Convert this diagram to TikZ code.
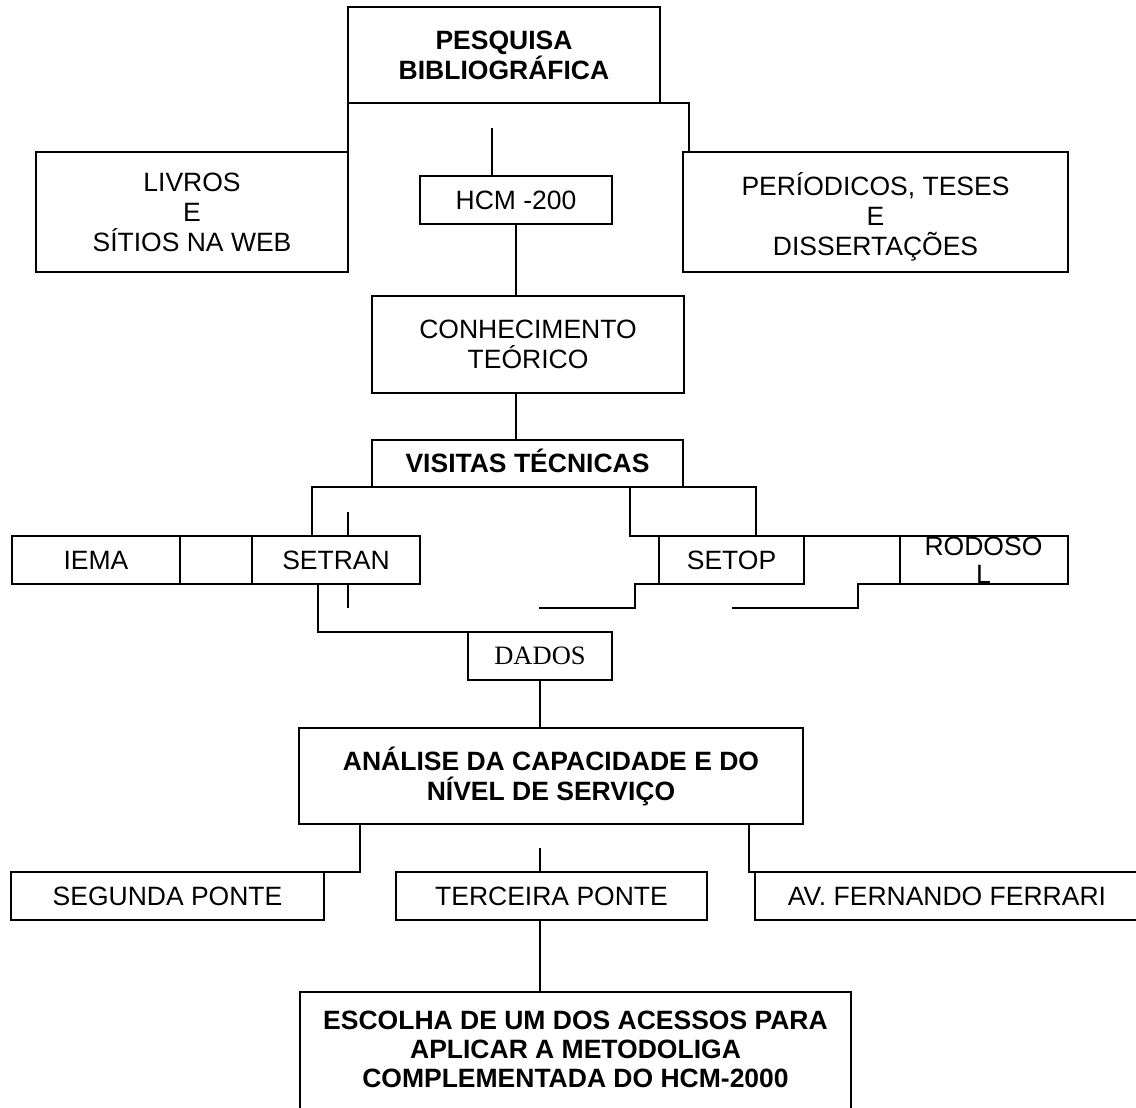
\documentclass[tikz,border=0pt]{standalone}
\usepackage{fontspec}
\setmainfont{Liberation Sans}
\newfontfamily\dadosfont{Liberation Serif}
\begin{document}
\begin{tikzpicture}[x=1pt, y=-1pt, line width=2pt,
  txt/.style={inner sep=0pt, outer sep=0pt, align=center,
              font=\fontsize{26.5}{30}\selectfont},
  box/.style={txt, draw, rectangle},
  bold/.style={font=\fontsize{26.5}{30}\selectfont\bfseries}]
\useasboundingbox (0,0) rectangle (1136,1108);
\fill[white] (0,0) rectangle (1136,1108);
\clip (0,0) rectangle (1136,1108);

% research sources
\node[box, bold, minimum width=312, minimum height=96] (pesq) at (504,55) {PESQUISA\\BIBLIOGRÁFICA};
\node[box, minimum width=312, minimum height=120] (livros) at (192,212) {LIVROS\\E\\SÍTIOS NA WEB};
\node[box, minimum width=192, minimum height=48] (hcm) at (516,200) {HCM -200};
\node[box, minimum width=385, minimum height=120] (period) at (875.5,212) {\rule{0pt}{27pt}PER\smash{Í}ODICOS, TESES\\E\\DISSERTA\smash{ÇÕ}ES};
\node[box, minimum width=312, minimum height=97] (conhec) at (528,344.5) {CONHECIMENTO\\TEÓRICO};

% technical visits
\node[box, bold, minimum width=311, minimum height=47.3] (visitas) at (527.5,463.7) {VISITAS T\smash{É}CNICAS};
\node[box, minimum width=168, minimum height=48] (iema) at (96,560) {IEMA};
\node[box, minimum width=72, minimum height=48] (blank) at (216,560) {};
\node[box, minimum width=168, minimum height=48] (setran) at (336,560) {SETRAN};
\node[box, minimum width=145, minimum height=48] (setop) at (731.5,560) {SETOP};
\node[box, minimum width=168, minimum height=48, font=\fontsize{26.5}{28}\selectfont] (rodoso) at (983.5,560) {RODOSO\\L};
\node[box, minimum width=144, minimum height=48, font=\dadosfont\fontsize{26.5}{30}\selectfont] (dados) at (540,656) {DADOS};

% analysis
\node[box, bold, minimum width=504, minimum height=96] (analise) at (551,776) {AN\smash{Á}LISE DA CAPACIDADE E DO\\NÍVEL DE SERVI\smash{Ç}O};
\node[box, minimum width=313, minimum height=48] (segunda) at (167.5,896) {SEGUNDA PONTE};
\node[box, minimum width=311, minimum height=48] (terceira) at (551.5,896) {TERCEIRA PONTE};
\node[box, minimum width=384, minimum height=48] (av) at (947,896) {AV. FERNANDO FERRARI};
\node[box, minimum width=551, minimum height=140, anchor=north] (escolha) at (575.5,992) {};
\node[txt, font=\fontsize{26.5}{29}\selectfont\bfseries] (escolhatxt) at (575.5,1049.3)
  {ESCOLHA DE UM DOS ACESSOS PARA\\APLICAR A METODOLIGA\\COMPLEMENTADA DO HCM-2000};

% free line ends
\coordinate (hcmstub) at (492,128);
\coordinate (vsplit) at (630,487.3);
\coordinate (crossA) at (348,512);
\coordinate (crossB) at (348,608);
\coordinate (endsetop) at (539,608);
\coordinate (endrodoso) at (732,608);
\coordinate (pontestub) at (540,848);

% connectors
\draw (pesq.south west) -- (pesq.south west |- livros.north);
\draw (pesq.south east) -| ([xshift=6pt]period.north west);
\draw (hcmstub) -- (hcmstub |- hcm.north);
\draw (hcm.south) -- (hcm.south |- conhec.north);
\draw (hcm.south |- conhec.south) -- (hcm.south |- visitas.north);
\draw (visitas.south west) -| ([xshift=60pt]setran.north west);
\draw (visitas.south east) -| ([xshift=24pt]setop.north);
\draw (vsplit) |- (rodoso.north west);
\draw (crossA) -- (crossA |- setran.north);
\draw (crossB) -- (crossB |- setran.south);
\draw ([xshift=66pt]setran.south west) |- (dados.north west);
\draw (setop.south west) -- ++(-24,0) |- (endsetop);
\draw (rodoso.south west) -- ++(-42,0) |- (endrodoso);
\draw (dados.south) -- (dados.south |- analise.north);
\draw ([xshift=61pt]analise.south west) |- (segunda.north east);
\draw (pontestub) -- (pontestub |- terceira.north);
\draw ([xshift=-54pt]analise.south east) |- (av.north west);
\draw (pontestub |- terceira.south) -- (pontestub |- escolha.north);
\end{tikzpicture}
\end{document}
